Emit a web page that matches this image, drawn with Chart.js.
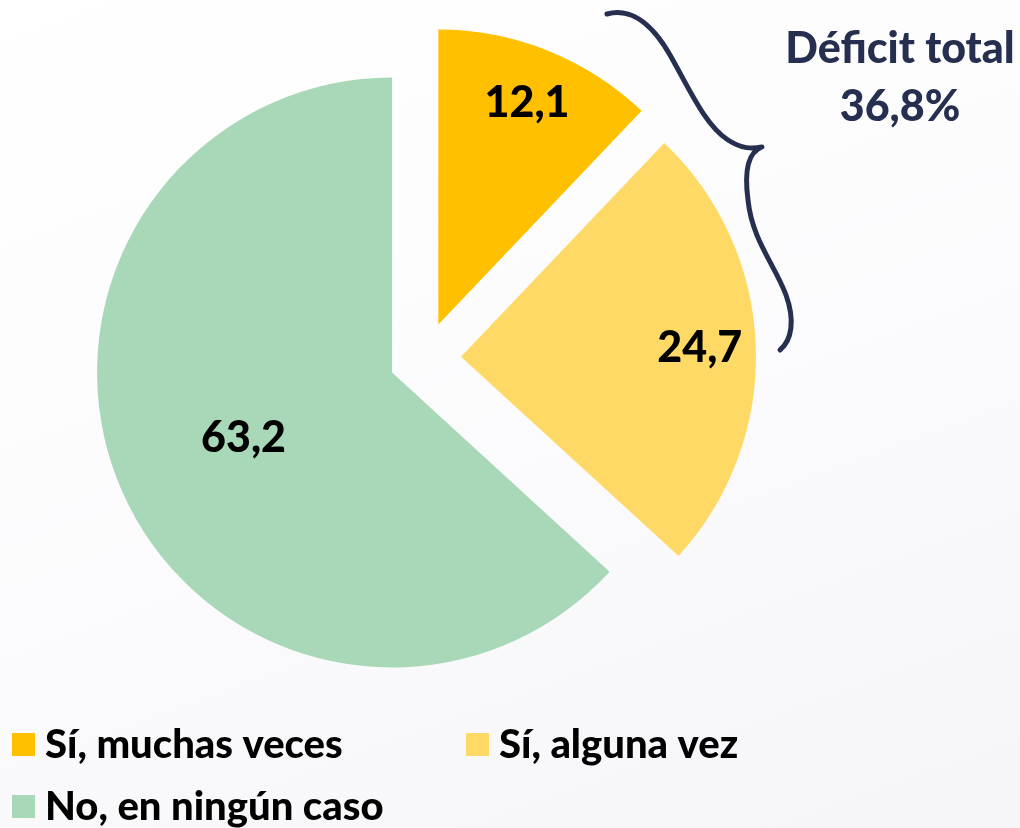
<!DOCTYPE html>
<html lang="es">
<head>
<meta charset="utf-8">
<title>Déficit total</title>
<script src="https://cdn.jsdelivr.net/npm/chart.js@4/dist/chart.umd.min.js"></script>
<style>
    html, body {
        margin: 0;
        padding: 0;
        width: 1020px;
        height: 828px;
        overflow: hidden;
        background: linear-gradient(160deg, #ffffff 0%, #fbfbfd 55%, #f5f5f9 100%);
    }
    #wrap {
        position: relative;
        width: 1020px;
        height: 828px;
    }
</style>
</head>
<body>
<div id="wrap"><canvas id="pie"></canvas></div>
<script>
const categories = ["Sí, muchas veces", "Sí, alguna vez", "No, en ningún caso"];
const values = [12.1, 24.7, 63.2];
const valueLabels = ["12,1", "24,7", "63,2"];
const sliceColors = ["#FFC000", "#FFD966", "#A9D8B8"];
const totalLabel = ["Déficit total", "36,8%"];

const FONT = "Lato, 'Open Sans', sans-serif";
const NAVY = "#262F4F";
const EXPLODE = 36;   // every slice is pulled out this far from the centre

// how far along the radius each value label sits (0 = tip, 1 = rim)
const labelDepth = [0.81, 0.81, 0.55];

// chart.js' own offset also grows the slice radius, so pull the slices apart here instead
const explodeSlices = {
    id: 'explodeSlices',
    beforeDatasetDraw(chart, args) {
        const ctx = chart.ctx;
        args.meta.data.forEach(arc => {
            const mid = (arc.startAngle + arc.endAngle) / 2;
            ctx.save();
            ctx.translate(Math.cos(mid) * EXPLODE, Math.sin(mid) * EXPLODE);
            arc.draw(ctx);
            ctx.restore();
        });
        return false;
    }
};

const sliceLabels = {
    id: 'sliceLabels',
    afterDatasetsDraw(chart) {
        const ctx = chart.ctx;
        const meta = chart.getDatasetMeta(0);
        ctx.save();
        ctx.fillStyle = '#000';
        ctx.font = '900 43px ' + FONT;
        ctx.textAlign = 'center';
        ctx.textBaseline = 'middle';
        meta.data.forEach((arc, i) => {
            const p = arc.getProps(['x', 'y', 'startAngle', 'endAngle', 'outerRadius']);
            const mid = (p.startAngle + p.endAngle) / 2;
            const d = EXPLODE + labelDepth[i] * p.outerRadius;
            ctx.fillText(valueLabels[i], p.x + Math.cos(mid) * d, p.y + Math.sin(mid) * d);
        });
        ctx.restore();
    }
};

// curly brace grouping the two "Sí" slices, plus its caption
const braceNote = {
    id: 'braceNote',
    afterDraw(chart) {
        const ctx = chart.ctx;
        ctx.save();
        ctx.strokeStyle = NAVY;
        ctx.lineWidth = 5;
        ctx.lineCap = 'round';
        ctx.lineJoin = 'round';
        ctx.beginPath();
        ctx.moveTo(607, 14);
        ctx.bezierCurveTo(628, 8, 650, 20, 670, 55);
        ctx.bezierCurveTo(690, 90, 705, 125, 728, 140);
        ctx.bezierCurveTo(742, 149, 752, 149, 762, 147);
        ctx.bezierCurveTo(748, 152, 744, 170, 748, 200);
        ctx.bezierCurveTo(752, 240, 775, 265, 786, 295);
        ctx.bezierCurveTo(795, 320, 792, 340, 780, 350);
        ctx.stroke();

        ctx.fillStyle = NAVY;
        ctx.font = '900 43px ' + FONT;
        ctx.textAlign = 'center';
        ctx.textBaseline = 'alphabetic';
        ctx.fillText(totalLabel[0], 900, 63);
        ctx.fillText(totalLabel[1], 900, 121);
        ctx.restore();
    }
};

// two-column legend under the pie
const bottomLegend = {
    id: 'bottomLegend',
    afterDraw(chart) {
        const ctx = chart.ctx;
        const slots = [[12, 744], [466, 744], [12, 806]];
        ctx.save();
        ctx.font = '900 40px ' + FONT;
        ctx.textBaseline = 'middle';
        ctx.textAlign = 'left';
        categories.forEach((name, i) => {
            const [x, y] = slots[i];
            ctx.fillStyle = sliceColors[i];
            ctx.fillRect(x, y - 11, 23, 23);
            ctx.fillStyle = '#000';
            ctx.fillText(name, x + 33, y + 1);
        });
        ctx.restore();
    }
};

new Chart(document.getElementById('pie'), {
    type: 'pie',
    data: {
        labels: categories,
        datasets: [{
            data: values,
            backgroundColor: sliceColors,
            borderWidth: 0,
            hoverOffset: 0
        }]
    },
    options: {
        responsive: true,
        maintainAspectRatio: false,
        animation: false,
        radius: 295,
        layout: { padding: { left: 0, right: 170, top: 0, bottom: 112 } },
        plugins: {
            legend: { display: false },
            tooltip: { enabled: false }
        }
    },
    plugins: [explodeSlices, sliceLabels, braceNote, bottomLegend]
});
</script>
</body>
</html>
